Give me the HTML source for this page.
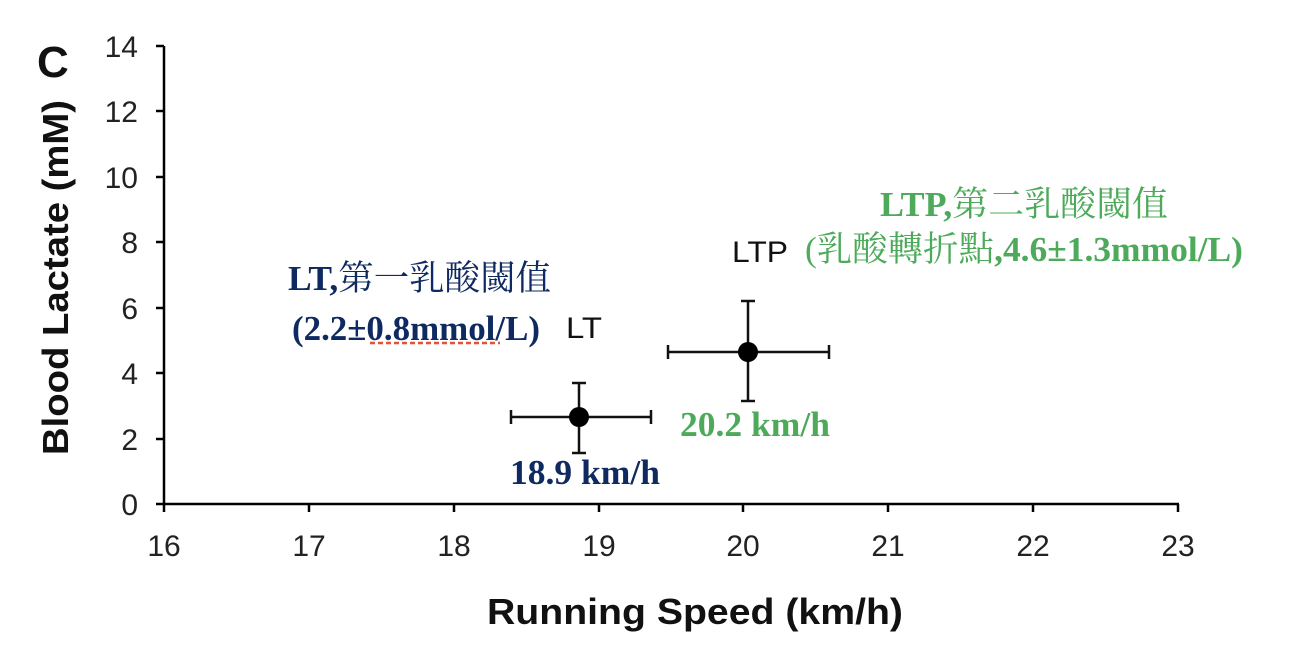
<!DOCTYPE html>
<html><head><meta charset="utf-8"><style>
html,body{margin:0;padding:0;background:#fff;}
svg{display:block;}
</style></head><body>
<svg width="1304" height="650" viewBox="0 0 1304 650" xmlns="http://www.w3.org/2000/svg">
<g stroke="#000" stroke-width="2.5" fill="none">
<line x1="164" y1="46" x2="164" y2="505"/>
<line x1="163" y1="504" x2="1179" y2="504"/>
<line x1="156" y1="46" x2="164" y2="46"/>
<line x1="156" y1="111" x2="164" y2="111"/>
<line x1="156" y1="177" x2="164" y2="177"/>
<line x1="156" y1="242" x2="164" y2="242"/>
<line x1="156" y1="308" x2="164" y2="308"/>
<line x1="156" y1="373" x2="164" y2="373"/>
<line x1="156" y1="439" x2="164" y2="439"/>
<line x1="156" y1="504" x2="164" y2="504"/>
<line x1="164" y1="504" x2="164" y2="512"/>
<line x1="309" y1="504" x2="309" y2="512"/>
<line x1="454" y1="504" x2="454" y2="512"/>
<line x1="599" y1="504" x2="599" y2="512"/>
<line x1="743" y1="504" x2="743" y2="512"/>
<line x1="888" y1="504" x2="888" y2="512"/>
<line x1="1033" y1="504" x2="1033" y2="512"/>
<line x1="1178" y1="504" x2="1178" y2="512"/>
</g>
<g font-family="Liberation Sans, sans-serif" font-size="30" fill="#222" text-anchor="end">
<text x="138" y="57">14</text><text x="138" y="122">12</text><text x="138" y="188">10</text>
<text x="138" y="253">8</text><text x="138" y="319">6</text><text x="138" y="384">4</text>
<text x="138" y="450">2</text><text x="138" y="515">0</text>
</g>
<g font-family="Liberation Sans, sans-serif" font-size="30" fill="#222" text-anchor="middle">
<text x="164" y="556">16</text><text x="309" y="556">17</text><text x="454" y="556">18</text>
<text x="599" y="556">19</text><text x="743" y="556">20</text><text x="888" y="556">21</text>
<text x="1033" y="556">22</text><text x="1178" y="556">23</text>
</g>
<text x="487" y="624" textLength="416" lengthAdjust="spacingAndGlyphs" font-family="Liberation Sans, sans-serif" font-weight="bold" font-size="36" fill="#111">Running Speed (km/h)</text>
<text transform="translate(68,455) rotate(-90)" textLength="355" lengthAdjust="spacingAndGlyphs" font-family="Liberation Sans, sans-serif" font-weight="bold" font-size="36" fill="#111">Blood Lactate (mM)</text>
<text x="37" y="77" font-family="Liberation Sans, sans-serif" font-weight="bold" font-size="44" fill="#111">C</text>
<g stroke="#111" stroke-width="2.5">
<line x1="511" y1="417" x2="651" y2="417"/><line x1="511" y1="410" x2="511" y2="424"/><line x1="651" y1="410" x2="651" y2="424"/>
<line x1="579" y1="383" x2="579" y2="453"/><line x1="572" y1="383" x2="586" y2="383"/><line x1="572" y1="453" x2="586" y2="453"/>
<line x1="668" y1="352" x2="829" y2="352"/><line x1="668" y1="345" x2="668" y2="359"/><line x1="829" y1="345" x2="829" y2="359"/>
<line x1="748" y1="301" x2="748" y2="401"/><line x1="741" y1="301" x2="755" y2="301"/><line x1="741" y1="401" x2="755" y2="401"/>
</g>
<circle cx="579" cy="417" r="10" fill="#000"/>
<circle cx="748" cy="352" r="10" fill="#000"/>
<text x="566" y="338" textLength="36" lengthAdjust="spacingAndGlyphs" font-family="Liberation Sans, sans-serif" font-size="30" fill="#111">LT</text>
<text x="732" y="262" textLength="56" lengthAdjust="spacingAndGlyphs" font-family="Liberation Sans, sans-serif" font-size="30" fill="#111">LTP</text>
<g font-family="Liberation Serif, 'Noto Serif CJK SC', serif" font-weight="bold" font-size="35" fill="#0f2a60">
<text x="288" y="290" textLength="263" lengthAdjust="spacingAndGlyphs">LT,<tspan font-weight="normal">第一乳酸閾值</tspan></text>
<text x="292" y="340" textLength="248" lengthAdjust="spacingAndGlyphs">(2.2±0.8mmol/L)</text>
<text x="510" y="484" textLength="150" lengthAdjust="spacingAndGlyphs">18.9 km/h</text>
</g>
<line x1="370" y1="343" x2="500" y2="343" stroke="#e8503a" stroke-width="2.5" stroke-dasharray="5,3"/>
<g font-family="Liberation Serif, 'Noto Serif CJK SC', serif" font-weight="bold" font-size="35" fill="#4caa5a">
<text x="880" y="216" textLength="288" lengthAdjust="spacingAndGlyphs">LTP,<tspan font-weight="normal">第二乳酸閾值</tspan></text>
<text x="805" y="261" textLength="438" lengthAdjust="spacingAndGlyphs"><tspan font-weight="normal">(乳酸轉折點</tspan>,4.6±1.3mmol/L)</text>
<text x="680" y="436" textLength="150" lengthAdjust="spacingAndGlyphs">20.2 km/h</text>
</g>
</svg>
</body></html>
